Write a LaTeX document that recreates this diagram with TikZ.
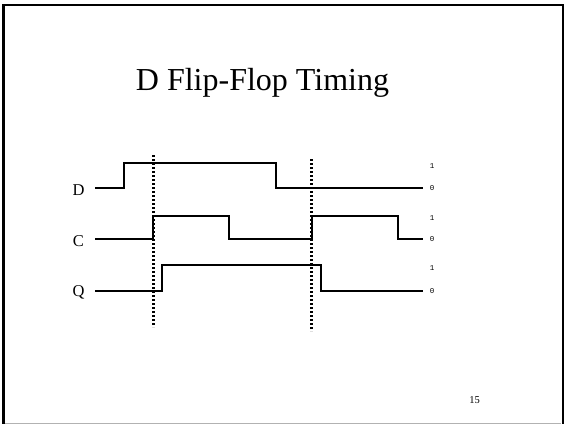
\documentclass[tikz,border=0pt]{standalone}
\usepackage{fontspec}
\setmainfont{Liberation Serif}
\newfontfamily\levelfont{Liberation Mono}

\begin{document}
\begin{tikzpicture}[x=1pt,y=-1pt,
        wave/.style={line width=2pt},
        clockedge/.style={line width=2.6pt,dash pattern=on 2pt off 2pt},
        signame/.style={anchor=base,font=\fontsize{16.5}{18}\selectfont},
        level/.style={anchor=center,font=\levelfont\fontsize{7.5}{8}\selectfont}]
    \useasboundingbox (0,0) rectangle (564,424);
    \draw[line width=3pt] (3.5,4) -- (3.5,424);
    \draw[line width=1.5pt] (2,5) -- (563,5);
    \draw[line width=2pt] (562.5,4) -- (562.5,424);
    \draw[line width=1pt,gray!60] (5,423) -- (561,423);

    \node[anchor=base,font=\fontsize{32}{36}\selectfont] (title) at (262.5,90) {D Flip-Flop Timing};

    \node[signame] (D) at (78.5,195) {D};
    \node[signame] (C) at (78.5,246) {C};
    \node[signame] (Q) at (78.5,296.5) {Q};

    \draw[wave] (95,188.3) -| (124,163.3) -| (276,188.3) -- (423,188.3);
    \draw[wave] (95,239.3) -| (153.3,215.7) -| (228.7,239.3) -| (311.7,215.7) -| (397.7,239.3) -- (423,239.3);
    \draw[wave] (95,290.7) -| (161.7,265) -| (320.7,290.7) -- (423,290.7);

    \draw[clockedge] (153.3,155) -- (153.3,327);
    \draw[clockedge] (311.7,159) -- (311.7,331);

    \foreach \name/\hi/\lo in {d/165.7/188.3, c/217.7/239.3, q/267.7/290.7} {
        \node[level] (\name-1) at (432,\hi) {1};
        \node[level] (\name-0) at (432,\lo) {0};
    }

    \node[anchor=base,font=\fontsize{10.5}{12}\selectfont] (page) at (474.5,403.3) {15};
\end{tikzpicture}
\end{document}
